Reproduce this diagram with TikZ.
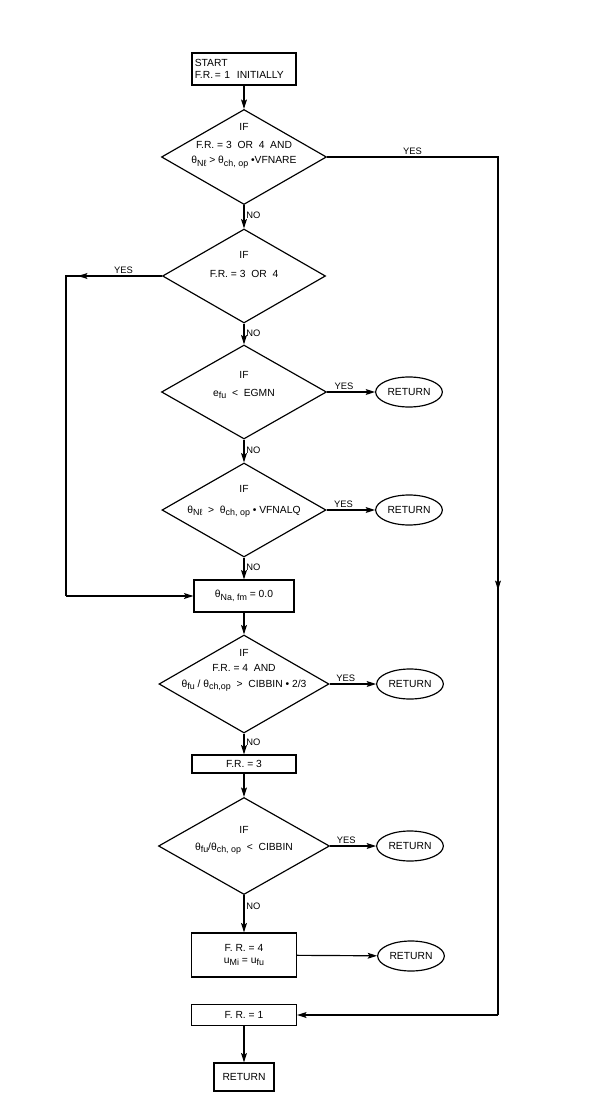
\documentclass[tikz,border=0pt]{standalone}
\usepackage{fontspec}
\setmainfont{Liberation Sans}
\usetikzlibrary{shapes.geometric,arrows.meta}
\newcommand{\lowsub}[1]{\raisebox{-0.45ex}{\fontsize{7.6}{8}\selectfont #1}}

\begin{document}
\begin{tikzpicture}[x=0.03cm, y=-0.03cm,
    font=\fontsize{8.8}{10.5}\selectfont,
    box/.style={rectangle, draw, line width=1pt, inner sep=2pt},
    dec/.style={diamond, draw, line width=1pt, inner sep=0pt},
    term/.style={ellipse, draw, line width=1pt, inner sep=0pt, minimum width=2.0cm, minimum height=0.9cm},
    lbl/.style={inner sep=1.5pt, font=\fontsize{8}{9}\selectfont},
    arr/.style={line width=1pt, -{Stealth[length=8pt, width=5pt, inset=1.5pt]}},
    line/.style={line width=1pt}]
    \useasboundingbox (0,0) rectangle (603,1102);
    % start
    \node[box, minimum width=3.12cm, minimum height=0.96cm, text width=2.95cm, align=left] (start) at (244,69) {START\\F.R.\,= 1 \ INITIALLY};
    % tests
    \node[dec, minimum width=4.95cm, minimum height=2.85cm] (d1) at (244,157) {};
    \node[anchor=base] (d1a) at (244,131) {IF};
    \node[anchor=base] (d1b) at (244,149) {F.R. = 3 \ OR \ 4 \ AND};
    \node[anchor=base] (d1c) at (244,164) {θ\lowsub{Nℓ} > θ\lowsub{ch, op} •VFNARE};
    \node[dec, minimum width=4.89cm, minimum height=2.82cm] (d2) at (244,276) {};
    \node[anchor=base] (d2a) at (244,259) {IF};
    \node[anchor=base] (d2b) at (244,278) {F.R. = 3 \ OR \ 4};
    \node[dec, minimum width=4.95cm, minimum height=2.82cm] (d3) at (244,392) {};
    \node[anchor=base] (d3a) at (244,378) {IF};
    \node[anchor=base] (d3b) at (244,396) {e\lowsub{fu} \ < \ EGMN};
    \node[dec, minimum width=4.92cm, minimum height=2.82cm] (d4) at (244,510) {};
    \node[anchor=base] (d4a) at (244,492) {IF};
    \node[anchor=base] (d4b) at (244,513) {θ\lowsub{Nℓ} \ > \ θ\lowsub{ch, op} • VFNALQ};
    \node[box, minimum width=3.0cm, minimum height=0.96cm] (fm) at (244,596) {θ\lowsub{Na, fm} = 0.0};
    \node[dec, minimum width=5.1cm, minimum height=2.94cm] (d5) at (244,684) {};
    \node[anchor=base] (d5a) at (244,656) {IF};
    \node[anchor=base] (d5b) at (244,671) {F.R. = 4 \ AND};
    \node[anchor=base] (d5c) at (244,687) {θ\lowsub{fu} / θ\lowsub{ch,op} \ > \ CIBBIN • 2/3};
    \node[box, minimum width=3.12cm, minimum height=0.54cm] (fr3) at (244,764) {F.R. = 3};
    \node[dec, minimum width=5.13cm, minimum height=2.91cm] (d6) at (244,846) {};
    \node[anchor=base] (d6a) at (244,833) {IF};
    \node[anchor=base] (d6b) at (244,850) {θ\lowsub{fu}/θ\lowsub{ch, op} \ < \ CIBBIN};
    \node[box, minimum width=3.15cm, minimum height=1.32cm, align=center] (fr4) at (244,955) {F. R. = 4\\u\lowsub{Mi} = u\lowsub{fu}};
    \node[box, minimum width=3.15cm, minimum height=0.63cm] (fr1) at (244,1015) {F. R. = 1};
    \node[box, minimum width=1.8cm, minimum height=0.84cm] (ret) at (244,1077) {RETURN};
    % exits
    \node[term] (r3) at (409,392) {RETURN};
    \node[term] (r4) at (409,510) {RETURN};
    \node[term] (r5) at (410,684) {RETURN};
    \node[term] (r6) at (410,846) {RETURN};
    \node[term] (r7) at (411,956) {RETURN};
    % loop corners
    \coordinate (ne) at (498,157);
    \coordinate (rmid) at (498,590);
    \coordinate (se) at (498,1015);
    \coordinate (nw) at (66,276);
    \coordinate (lmid) at (78,276);
    \coordinate (sw) at (66,596);
    % main line
    \draw[arr] (start) -- (d1);
    \draw[arr] (d1) -- node[lbl, right, pos=0.45] {NO} (d2);
    \draw[arr] (d2) -- node[lbl, right, pos=0.45] {NO} (d3);
    \draw[arr] (d3) -- node[lbl, right, pos=0.45] {NO} (d4);
    \draw[arr] (d4) -- node[lbl, right, pos=0.45] {NO} (fm);
    \draw[arr] (fm) -- (d5);
    \draw[arr] (d5) -- node[lbl, right, pos=0.4] {NO} (fr3);
    \draw[arr] (fr3) -- (d6);
    \draw[arr] (d6) -- node[lbl, right, pos=0.3] {NO} (fr4);
    \draw[arr] (fr1) -- (ret);
    % yes branches
    \draw[arr] (d3.east) -- node[lbl, above, pos=0.35] {YES} (r3);
    \draw[arr] (d4.east) -- node[lbl, above, pos=0.35] {YES} (r4);
    \draw[arr] (d5.east) -- node[lbl, above, pos=0.35] {YES} (r5);
    \draw[arr] (d6.east) -- node[lbl, above, pos=0.35] {YES} (r6);
    \draw[arr] (fr4) -- (r7);
    \draw[line] (d1.east) -- node[lbl, above] {YES} (ne) -- (se);
    \draw[arr] (ne) -- (rmid);
    \draw[arr] (se) -- (fr1);
    \draw[line] (d2.west) -- node[lbl, above, pos=0.4] {YES} (nw) -- (sw);
    \draw[arr] (d2.west) -- (lmid);
    \draw[arr] (sw) -- (fm);
\end{tikzpicture}
\end{document}
